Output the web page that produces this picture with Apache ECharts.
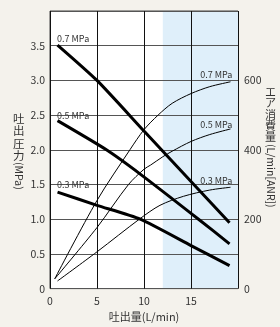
<!DOCTYPE html>
<html>
<head>
<meta charset="UTF-8">
<title></title>
<style>
	html,body{ margin:0; padding:0; background:#f4f2ec; }
	#chart{ width:280px; height:327px; }
</style>
</head>
<body>
<div id="chart"></div>
<script src="https://cdn.jsdelivr.net/npm/echarts@6/dist/echarts.min.js"></script>
<script>
	// 吐出圧力 (MPa) : 供給圧ごと
	var p07Flow = [0.8, 5, 10, 15.3, 19.1];
	var p07Pres = [3.51, 3.0, 2.27, 1.5, 0.95];
	var p05Flow = [0.8, 6, 9.6, 15.8, 19.1];
	var p05Pres = [2.42, 2.0, 1.65, 1.0, 0.645];
	var p03Flow = [0.8, 5, 9.6, 15, 19.1];
	var p03Pres = [1.39, 1.2, 1.0, 0.62, 0.33];

	// エア消費量 (L/min[ANR])
	var a07Flow = [0.5, 5, 8.5, 10, 11.5, 13, 15, 17, 19.2];
	var a07Air  = [28, 254, 400, 458, 500, 534, 562, 582, 596];
	var a05Flow = [0.5, 5, 8.35, 10, 10.7, 12, 13, 15, 17, 19.2];
	var a05Air  = [28, 176, 300, 344, 356, 380, 396, 424, 444, 460];
	var a03Flow = [0.8, 5, 9.6, 11.7, 14.2, 17, 19.2];
	var a03Air  = [22, 106, 202, 240, 266, 284, 292];

	var pressLabels = ['0.7 MPa', '0.5 MPa', '0.3 MPa'];
	var shadeFrom = 12, shadeTo = 20;

	function pairs(xs, ys){
		var res = [];
		for (var i = 0; i < xs.length; i++) res.push([xs[i], ys[i]]);
		return res;
	}

	var txt = '#333';
	var font = '"Noto Sans CJK JP", "Noto Sans", sans-serif';

	function markLabel(coord, text, align){
		return {
			symbol: 'circle', symbolSize: 0, silent: true, animation: false,
			label: {
				show: true, position: [0, 0], align: align, verticalAlign: 'middle',
				formatter: text, color: txt, fontSize: 9, fontFamily: font
			},
			data: [{ coord: coord }]
		};
	}

	var chart = echarts.init(document.getElementById('chart'));
	var option = {
		backgroundColor: '#f4f2ec',
		animation: false,
		grid: {
			left: 50, right: 42, top: 11, bottom: 34,
			show: true, backgroundColor: '#fff', borderColor: '#444', borderWidth: 1
		},
		xAxis: {
			type: 'value', min: 0, max: 20, interval: 5, z: 1,
			name: '吐出量(L/min)', nameLocation: 'middle', nameGap: 22,
			nameTextStyle: { color: txt, fontSize: 11, fontFamily: font },
			axisLine: { show: false }, axisTick: { show: false },
			axisLabel: {
				color: txt, fontSize: 10.5, fontFamily: font, margin: 7,
				formatter: function(v){ return v === 20 ? '' : v; }
			},
			splitLine: { show: true, lineStyle: { color: '#111', width: 1 } }
		},
		yAxis: [{
			type: 'value', min: 0, max: 4, interval: 0.5, z: 1,
			axisLine: { show: false }, axisTick: { show: false },
			axisLabel: {
				color: txt, fontSize: 10.5, fontFamily: font, margin: 5,
				formatter: function(v){ return v === 0 ? '0' : (v === 4 ? '' : v.toFixed(1)); }
			},
			splitLine: { show: true, lineStyle: { color: '#555', width: 1 } }
		}, {
			type: 'value', min: 0, max: 800, interval: 200, position: 'right', z: 1,
			axisLine: { show: false }, axisTick: { show: false },
			axisLabel: {
				color: txt, fontSize: 10.5, fontFamily: font, margin: 6,
				formatter: function(v){ return v === 800 ? '' : v; }
			},
			splitLine: { show: false }
		}],
		graphic: [
			{ type: 'text', left: 13, top: 112, silent: true,
			  style: { text: '吐\n出\n圧\n力', fill: txt, fontSize: 11.5, lineHeight: 12.5, fontFamily: font } },
			{ type: 'text', x: 19, y: 162, rotation: -Math.PI / 2, silent: true,
			  style: { text: '(MPa)', fill: txt, fontSize: 10.5, fontFamily: font, align: 'left', verticalAlign: 'middle' } },
			{ type: 'text', left: 265, top: 86, silent: true,
			  style: { text: 'エ\nア\n消\n費\n量', fill: txt, fontSize: 11, lineHeight: 11.4, fontFamily: font } },
			{ type: 'text', x: 270.5, y: 144, rotation: -Math.PI / 2, silent: true,
			  style: { text: '(L/min[ANR])', fill: txt, fontSize: 10.5, fontFamily: font, align: 'left', verticalAlign: 'middle' } }
		],
		series: [
			{
				type: 'line', data: pairs(p07Flow, p07Pres), showSymbol: false, smooth: 0.2,
				lineStyle: { color: '#000', width: 3 },
				markPoint: markLabel([0.75, 3.6], pressLabels[0], 'left'),
				markArea: {
					silent: true, z: 0.5,
					itemStyle: { color: '#dfeffa' },
					data: [[{ xAxis: shadeFrom }, { xAxis: shadeTo }]]
				}
			},
			{
				type: 'line', data: pairs(p05Flow, p05Pres), showSymbol: false, smooth: 0.2,
				lineStyle: { color: '#000', width: 3 },
				markPoint: markLabel([0.75, 2.5], pressLabels[1], 'left')
			},
			{
				type: 'line', data: pairs(p03Flow, p03Pres), showSymbol: false, smooth: 0.2,
				lineStyle: { color: '#000', width: 3 },
				markPoint: markLabel([0.75, 1.5], pressLabels[2], 'left')
			},
			{
				type: 'line', yAxisIndex: 1, data: pairs(a07Flow, a07Air), showSymbol: false, smooth: 0.3,
				lineStyle: { color: '#000', width: 1 },
				markPoint: markLabel([19.4, 618], pressLabels[0], 'right')
			},
			{
				type: 'line', yAxisIndex: 1, data: pairs(a05Flow, a05Air), showSymbol: false, smooth: 0.3,
				lineStyle: { color: '#000', width: 1 },
				markPoint: markLabel([19.4, 474], pressLabels[1], 'right')
			},
			{
				type: 'line', yAxisIndex: 1, data: pairs(a03Flow, a03Air), showSymbol: false, smooth: 0.3,
				lineStyle: { color: '#000', width: 1 },
				markPoint: markLabel([19.4, 312], pressLabels[2], 'right')
			}
		]
	};
	chart.setOption(option);
</script>
</body>
</html>
